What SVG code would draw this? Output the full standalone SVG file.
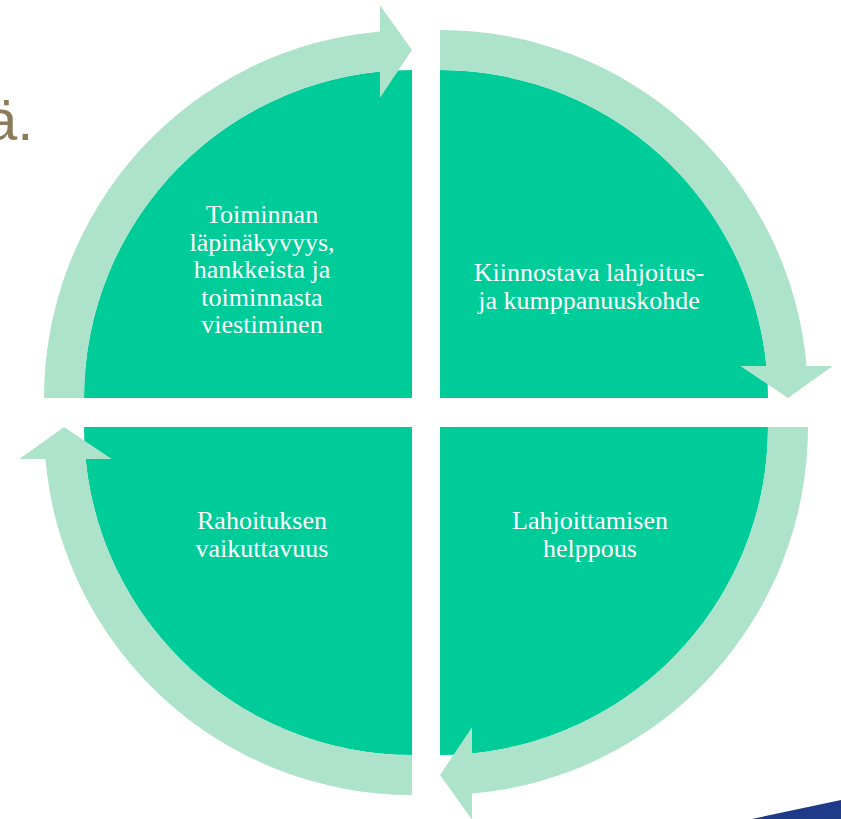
<svg xmlns="http://www.w3.org/2000/svg" width="841" height="819" viewBox="0 0 841 819">
<style>
.sector{fill:#00CC99;}
.band{fill:#ADE3CB;}
.lbl{font-family:"Liberation Serif","Times New Roman",serif;font-size:26px;fill:#FFFFFF;text-anchor:middle;}
</style>
<rect width="841" height="819" fill="#FFFFFF"/>
<text x="-15" y="140" font-family="Liberation Sans, Arial, sans-serif" font-size="58" fill="#8B7B5A">ä.</text>
<polygon points="752,819 841,800 841,819" fill="#1F3A88"/>
<g id="node-tl">
<path class="sector" d="M412,398 L84,398 A328,328 0 0 1 412,70 Z"/>
<text class="lbl" x="262" y="223">Toiminnan</text>
<text class="lbl" x="262" y="250.5">läpinäkyvyys,</text>
<text class="lbl" x="262" y="278">hankkeista ja</text>
<text class="lbl" x="262" y="305.5">toiminnasta</text>
<text class="lbl" x="262" y="333">viestiminen</text>
</g>
<g id="node-tr">
<path class="sector" d="M440,398 L440,70 A328,328 0 0 1 768,398 Z"/>
<text class="lbl" x="589" y="281">Kiinnostava lahjoitus-</text>
<text class="lbl" x="589" y="308.5">ja kumppanuuskohde</text>
</g>
<g id="node-br">
<path class="sector" d="M440,427 L768,427 A328,328 0 0 1 440,755 Z"/>
<text class="lbl" x="590" y="529">Lahjoittamisen</text>
<text class="lbl" x="590" y="557">helppous</text>
</g>
<g id="node-bl">
<path class="sector" d="M412,427 L412,755 A328,328 0 0 1 84,427 Z"/>
<text class="lbl" x="262" y="529">Rahoituksen</text>
<text class="lbl" x="262" y="557">vaikuttavuus</text>
</g>
<g id="connectors">
<path class="band" d="M44,398 A368,368 0 0 1 380,31.4 L380,5.3 L412,50 L380,97.7 L380,71.6 A328,328 0 0 0 84,398 Z"/>
<path class="band" d="M440,30 A368,368 0 0 1 806.6,366 L832.7,366 L788,398 L740.3,366 L766.4,366 A328,328 0 0 0 440,70 Z"/>
<path class="band" d="M808,427 A368,368 0 0 1 472,793.6 L472,819.7 L440,775 L472,727.3 L472,753.4 A328,328 0 0 0 768,427 Z"/>
<path class="band" d="M412,795 A368,368 0 0 1 45.4,459 L19.3,459 L64,427 L111.7,459 L85.6,459 A328,328 0 0 0 412,755 Z"/>
</g>
</svg>
